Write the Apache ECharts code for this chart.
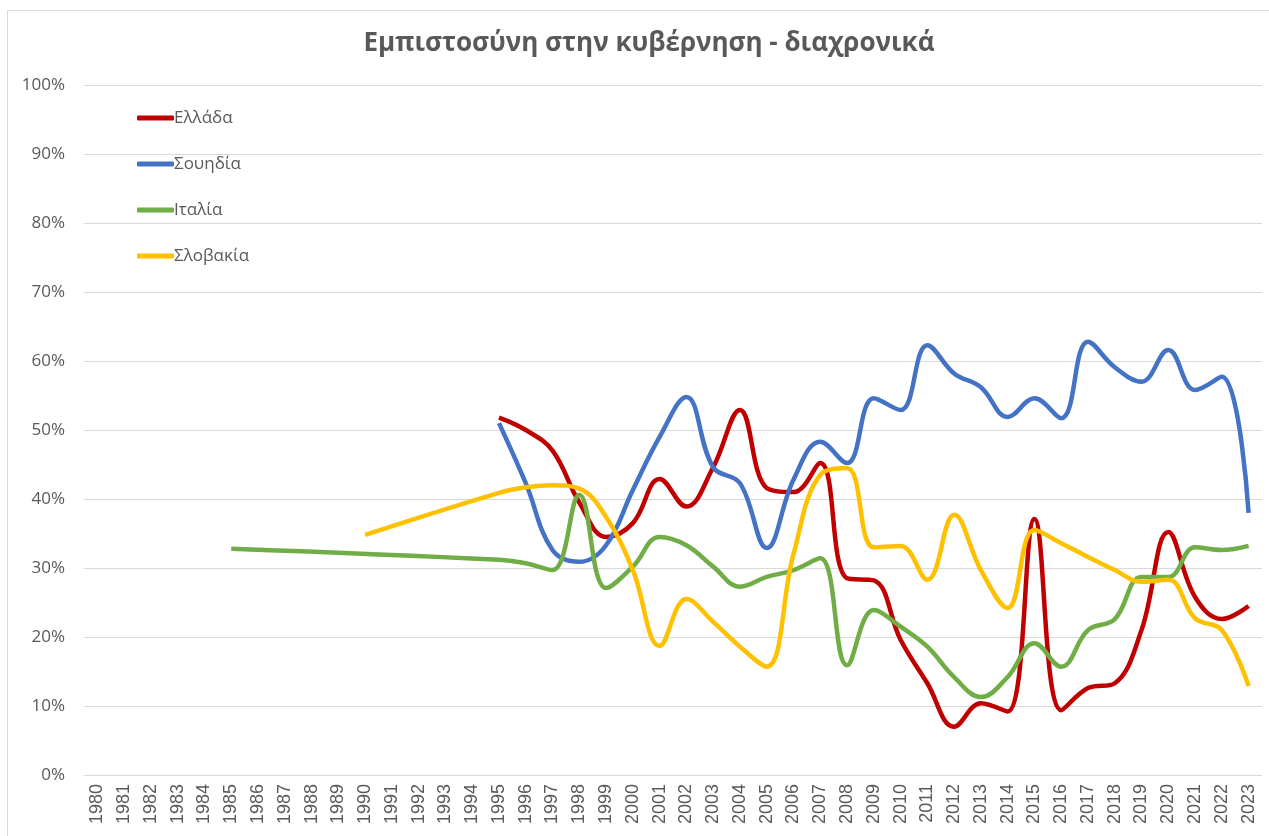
<!DOCTYPE html>
<html>
<head>
<meta charset="utf-8">
<script src="https://cdn.jsdelivr.net/npm/echarts@6/dist/echarts.min.js"></script>
<style>
  html, body { margin: 0; padding: 0; background: #fff; }
  #chart { width: 1269px; height: 836px; }
</style>
</head>
<body>
<div id="chart"></div>
<script>
// years on the x axis
var years = [];
for (var y = 1980; y <= 2023; y++) years.push(String(y));

// values (%), null where there is no data
var greece = [
  null, null, null, null, null, null, null, null, null, null,
  null, null, null, null, null,
  51.8, 50.0, 47.0, 39.5, 34.5, 36.5, 42.9, 38.9, 44.6, 52.9,
  41.6, 41.0, 45.2, 28.5, 28.2, 19.6, 13.3, 7.0, 10.4, 9.2,
  37.1, 9.4, 12.6, 13.3, 21.0, 35.2, 25.8, 22.6, 24.5
];
var sweden = [
  null, null, null, null, null, null, null, null, null, null,
  null, null, null, null, null,
  51.0, 42.3, 32.6, 30.9, 33.3, 41.3, 49.0, 54.8, 44.6, 42.3,
  32.9, 42.8, 48.3, 45.2, 54.6, 52.9, 62.3, 58.2, 56.2, 51.9,
  54.6, 51.7, 62.8, 59.1, 57.0, 61.6, 55.8, 57.7, 38.0
];
var italy = [
  null, null, null, null, null, 32.8, null, null, null, null,
  null, null, null, null, null,
  31.2, 30.7, 29.7, 40.6, 27.1, 30.2, 34.5, 33.3, 30.2, 27.3,
  28.7, 29.7, 31.4, 15.9, 23.9, 21.5, 18.6, 14.2, 11.3, 14.2,
  19.1, 15.7, 21.0, 22.6, 28.7, 28.7, 33.0, 32.6, 33.2
];
var slovakia = [
  null, null, null, null, null, null, null, null, null, null,
  34.8, null, null, null, null,
  40.9, 41.7, 42.0, 41.5, 37.4, 29.7, 18.7, 25.5, 22.2, 18.6,
  15.7, 32.0, 43.5, 44.5, 33.0, 33.2, 28.3, 37.7, 29.7, 24.2,
  35.5, 33.6, 31.6, 29.7, 28.0, 28.3, 22.7, 21.0, 12.9
];

var names = ['Ελλάδα', 'Σουηδία', 'Ιταλία', 'Σλοβακία'];
var colors = ['#C00000', '#4472C4', '#70AD47', '#FFC000'];
var values = [greece, sweden, italy, slovakia];

var chart = echarts.init(document.getElementById('chart'));

var series = names.map(function (n, i) {
  return {
    name: n,
    type: 'line',
    data: values[i],
    smooth: 0.4,
    connectNulls: true,
    symbol: 'none',
    lineStyle: { width: 4.5, color: colors[i] },
    itemStyle: { color: colors[i] }
  };
});

chart.setOption({
  animation: false,
  color: colors,
  title: {
    text: 'Εμπιστοσύνη στην κυβέρνηση - διαχρονικά',
    left: 644,
    textAlign: 'center',
    top: 26,
    textStyle: {
      fontFamily: 'Open Sans',
      fontSize: 26,
      fontWeight: 'bold',
      color: '#595959'
    }
  },
  graphic: [{
    type: 'rect',
    shape: { x: 7.5, y: 10.5, width: 1270, height: 840 },
    style: { fill: null, stroke: '#d9d9d9', lineWidth: 1 },
    silent: true
  }],
  legend: {
    orient: 'vertical',
    left: 132,
    top: 102,
    icon: 'roundRect',
    itemWidth: 37,
    itemHeight: 5,
    itemGap: 24,
    data: names,
    textStyle: {
      fontFamily: 'Open Sans',
      fontSize: 17,
      lineHeight: 22,
      color: '#595959',
      padding: [0, 0, 0, -5]
    }
  },
  grid: {
    left: 84,
    right: 7,
    top: 85,
    bottom: 61,
    containLabel: false
  },
  xAxis: {
    type: 'category',
    data: years,
    boundaryGap: true,
    axisLine: { show: false },
    axisTick: { show: false },
    axisLabel: {
      rotate: 90,
      interval: 0,
      margin: 9,
      fontFamily: 'Liberation Sans',
      fontSize: 18,
      color: '#595959'
    }
  },
  yAxis: {
    type: 'value',
    min: 0,
    max: 100,
    interval: 10,
    axisLine: { show: false },
    axisTick: { show: false },
    axisLabel: {
      formatter: '{value}%',
      margin: 19,
      fontFamily: 'Open Sans',
      fontSize: 17,
      color: '#595959'
    },
    splitLine: { lineStyle: { color: '#d9d9d9', width: 1 } }
  },
  series: series
});
</script>
</body>
</html>
